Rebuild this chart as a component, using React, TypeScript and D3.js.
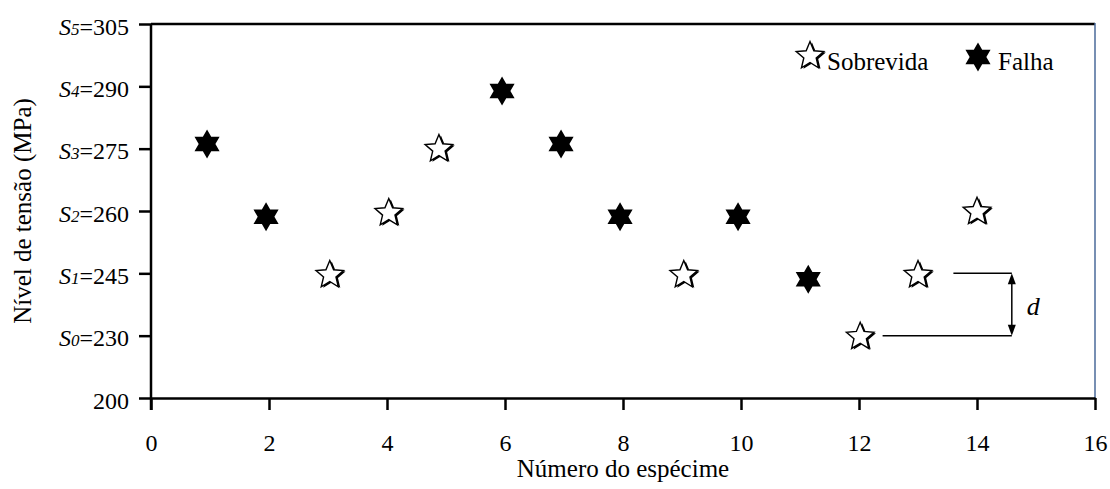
import React, { useEffect, useRef } from 'react';
import * as d3 from 'd3';

// stress levels on the y axis (evenly spaced on screen)
const levelValues = [200, 230, 245, 260, 275, 290, 305];
const levelIndex = [null, 0, 1, 2, 3, 4, 5];
const xTicks = [0, 2, 4, 6, 8, 10, 12, 14, 16];

// specimen positions
const specimenX = [0.95, 1.95, 3.03, 4.03, 4.88, 5.95, 6.95, 7.95, 9.03, 9.95, 11.14, 12.02, 13.0, 14.0];
const stressMPa = [276.1, 258.6, 244.6, 259.5, 274.9, 288.9, 276.1, 258.6, 244.6, 258.6, 243.6, 229.5, 244.6, 259.8];
const outcome = ['F', 'F', 'S', 'S', 'S', 'F', 'F', 'F', 'S', 'F', 'F', 'S', 'S', 'S'];

const legendLabels = { S: 'Sobrevida', F: 'Falha' };

const FONT = '"Liberation Serif", "Times New Roman", serif';

const starPath = (r: number, points: number, inner: number) => {
    const pts: [number, number][] = [];
    for (let i = 0; i < points * 2; i++) {
        const a = (Math.PI / points) * i - Math.PI / 2;
        const rr = i % 2 === 0 ? r : r * inner;
        pts.push([Math.cos(a) * rr, Math.sin(a) * rr]);
    }
    return d3.line()(pts) + 'Z';
};

const openStar = starPath(14.5, 5, 0.45);
const hexagram = starPath(14.5, 6, 0.577);

const App = () => {
    const svgRef = useRef<SVGSVGElement>(null);

    useEffect(() => {
        const svg = d3.select(svgRef.current);
        svg.selectAll('*').remove();

        const width = 1110;
        const height = 489;
        const margin = { top: 24, right: 15, bottom: 91, left: 151 };
        const x0 = margin.left, x1 = width - margin.right;
        const y0 = height - margin.bottom, y1 = margin.top;

        const x = d3.scaleLinear().domain([0, 16]).range([x0, x1]);
        const y = d3.scaleLinear()
            .domain(levelValues)
            .range(levelValues.map((_, i) => y0 - (i * (y0 - y1)) / (levelValues.length - 1)));

        svg.style('font-family', FONT);

        // frame: top black, right blue-ish
        svg.append('line')
            .attr('x1', x0).attr('x2', x1).attr('y1', y1).attr('y2', y1)
            .attr('stroke', '#000').attr('stroke-width', 2.5);
        svg.append('line')
            .attr('x1', x1).attr('x2', x1).attr('y1', y1 - 1).attr('y2', y0)
            .attr('stroke', '#4a6a9a').attr('stroke-width', 1.5);

        // x axis
        const gx = svg.append('g')
            .attr('transform', `translate(0,${y0})`)
            .call(d3.axisBottom(x).tickValues(xTicks).tickSizeOuter(0).tickSizeInner(12).tickPadding(24).tickFormat(d3.format('d')));
        gx.select('.domain').attr('stroke-width', 2.5);
        gx.selectAll('.tick line').attr('stroke-width', 2.5);
        gx.selectAll('.tick text').attr('font-size', 24).attr('font-family', FONT).attr('fill', '#000');

        // y axis
        const gy = svg.append('g')
            .attr('transform', `translate(${x0},0)`)
            .call(d3.axisLeft(y).tickValues(levelValues).tickSizeOuter(0).tickSizeInner(12).tickPadding(10).tickFormat(() => ''));
        gy.select('.domain').attr('stroke-width', 2.5).attr('d', `M0,${y1}V${y0 + 12}`);
        gy.selectAll('.tick line').attr('stroke-width', 2.5);
        gy.selectAll('.tick text').each(function (d, i) {
            const t = d3.select(this)
                .attr('font-size', 24).attr('font-family', FONT).attr('fill', '#000')
                .attr('dy', 10).attr('x', -22);
            const idx = levelIndex[i];
            if (idx !== null) {
                t.append('tspan').attr('font-style', 'italic').text('S');
                t.append('tspan').attr('font-style', 'italic').attr('font-size', 17).text(String(idx));
                t.append('tspan').text(`=${d}`);
            } else {
                t.append('tspan').text(String(d));
            }
        });

        // specimens
        const pts = specimenX.map((sx, i) => ({ sx, s: stressMPa[i], o: outcome[i] }));
        const g = svg.append('g');
        const drawOpen = (sel: any) => {
            sel.append('path').attr('d', openStar).attr('transform', 'translate(2,1)').attr('fill', '#000');
            sel.append('path').attr('d', openStar).attr('fill', '#fff').attr('stroke', '#000').attr('stroke-width', 1.4);
        };
        pts.forEach(p => {
            const m = g.append('g').attr('transform', `translate(${x(p.sx)},${y(p.s)})`);
            if (p.o === 'S') drawOpen(m);
            else m.append('path').attr('d', hexagram).attr('fill', '#000');
        });

        // legend
        const lg = svg.append('g');
        drawOpen(lg.append('g').attr('transform', 'translate(810,56)'));
        lg.append('text').attr('x', 827).attr('y', 70).attr('font-size', 25).text(legendLabels.S);
        lg.append('path').attr('d', hexagram).attr('transform', 'translate(978,57)').attr('fill', '#000');
        lg.append('text').attr('x', 998).attr('y', 70).attr('font-size', 25).text(legendLabels.F);

        // d annotation between S1 (specimen 13) and S0 (specimen 12)
        const ax = x(14.59);
        const yUp = y(245), yLo = y(230);
        svg.append('line').attr('x1', x(13.6)).attr('x2', ax).attr('y1', yUp).attr('y2', yUp).attr('stroke', '#000').attr('stroke-width', 1.5);
        svg.append('line').attr('x1', x(12.4)).attr('x2', ax).attr('y1', yLo).attr('y2', yLo).attr('stroke', '#000').attr('stroke-width', 1.5);
        svg.append('line').attr('x1', ax).attr('x2', ax).attr('y1', yUp + 8).attr('y2', yLo - 8).attr('stroke', '#000').attr('stroke-width', 1.5);
        svg.append('path').attr('d', `M${ax},${yUp}l-4,11h8Z`).attr('fill', '#000');
        svg.append('path').attr('d', `M${ax},${yLo}l-4,-11h8Z`).attr('fill', '#000');
        svg.append('text').attr('x', ax + 15).attr('y', (yUp + yLo) / 2 + 10)
            .attr('font-size', 26).attr('font-style', 'italic').text('d');

        // axis titles
        svg.append('text')
            .attr('x', (x0 + x1) / 2).attr('y', 477)
            .attr('text-anchor', 'middle').attr('font-size', 25)
            .text('Número do espécime');
        svg.append('text')
            .attr('transform', `translate(31,${(y0 + y1) / 2}) rotate(-90)`)
            .attr('text-anchor', 'middle').attr('font-size', 25)
            .text('Nível de tensão (MPa)');
    }, []);

    return (
        <svg ref={svgRef} width={1110} height={489}
            style={{ position: 'absolute', left: 0, top: 0, background: '#fff' }} />
    );
};

export default App;
